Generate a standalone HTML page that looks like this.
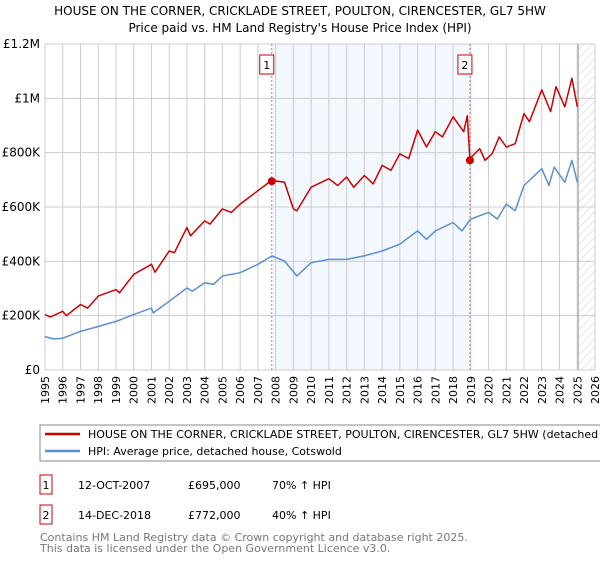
<!DOCTYPE html>
<html><head><meta charset="utf-8">
<style>
body{margin:0;background:#fff;font-family:"DejaVu Sans","Liberation Sans",sans-serif;}
svg text{font-family:"DejaVu Sans","Liberation Sans",sans-serif;}
</style></head>
<body>
<svg id="chart" width="600" height="560" xmlns="http://www.w3.org/2000/svg">
<defs>
<pattern id="hatch" width="6" height="6" patternUnits="userSpaceOnUse" patternTransform="rotate(45)">
<line x1="0" y1="0" x2="0" y2="6" stroke="#ccc" stroke-width="1"/>
</pattern>
</defs>
<text x="300" y="15" text-anchor="middle" font-size="12">HOUSE ON THE CORNER, CRICKLADE STREET, POULTON, CIRENCESTER, GL7 5HW</text>
<text x="300" y="32" text-anchor="middle" font-size="12">Price paid vs. HM Land Registry's House Price Index (HPI)</text>
<g id="plot"></g>
<rect x="40" y="425" width="570" height="36" fill="#fff" stroke="#888"/>
<line x1="45" y1="434" x2="80" y2="434" stroke="#cc0000" stroke-width="2.5"/>
<text x="88" y="438" font-size="11">HOUSE ON THE CORNER, CRICKLADE STREET, POULTON, CIRENCESTER, GL7 5HW (detached house)</text>
<line x1="45" y1="451" x2="80" y2="451" stroke="#5b8fd4" stroke-width="2.5"/>
<text x="88" y="455" font-size="11">HPI: Average price, detached house, Cotswold</text>
<g>
<rect x="40" y="475" width="12" height="19" fill="#fff" stroke="#cc0000"/>
<text x="46" y="489" font-size="11" text-anchor="middle">1</text>
<text x="78" y="489" font-size="11">12-OCT-2007</text>
<text x="188" y="489" font-size="11">£695,000</text>
<text x="272" y="489" font-size="11">70% ↑ HPI</text>
</g>
<g>
<rect x="40" y="505" width="12" height="19" fill="#fff" stroke="#cc0000"/>
<text x="46" y="519" font-size="11" text-anchor="middle">2</text>
<text x="78" y="519" font-size="11">14-DEC-2018</text>
<text x="188" y="519" font-size="11">£772,000</text>
<text x="272" y="519" font-size="11">40% ↑ HPI</text>
</g>
<text x="40" y="541" font-size="11" fill="#777">Contains HM Land Registry data © Crown copyright and database right 2025.</text>
<text x="40" y="552" font-size="11" fill="#777">This data is licensed under the Open Government Licence v3.0.</text>
</svg>
<script>
const hpiYears=[1995,1995.5,1996,1997,1998,1999,2000,2001,2001.1,2002,2003,2003.3,2004,2004.5,2005,2006,2007,2007.8,2008.5,2009.2,2010,2011,2012,2013,2014,2015,2016,2016.5,2017,2018,2018.5,2019,2020,2020.5,2021,2021.5,2022,2023,2023.4,2023.7,2024.3,2024.7,2025];
const hpiValues=[123,114,117,142,160,179,204,228,210,253,302,290,321,315,346,358,389,420,401,346,395,407,407,420,438,463,512,481,512,543,512,556,580,556,611,586,679,741,679,747,691,772,691];
const priceYears=[1995,1995.3,1996,1996.2,1997,1997.4,1998,1999,1999.2,2000,2001,2001.2,2002,2002.3,2003,2003.2,2004,2004.3,2005,2005.5,2006,2007,2007.78,2008.5,2009,2009.2,2010,2011,2011.5,2012,2012.4,2013,2013.5,2014,2014.5,2015,2015.5,2016,2016.5,2017,2017.4,2018,2018.6,2018.8,2018.95,2019.5,2019.8,2020.2,2020.6,2021,2021.5,2022,2022.3,2023,2023.5,2023.8,2024.3,2024.7,2025];
const priceValues=[204,195,216,200,241,228,272,296,284,352,389,360,438,432,525,494,549,537,593,580,611,660,698,691,593,586,673,704,679,710,673,716,685,753,735,796,778,883,821,877,858,932,877,936,778,815,772,796,858,821,833,944,914,1031,951,1043,969,1074,969];
const saleYears=[2007.78,2018.95];
const saleValues=[695,772];
const yTicks=[0,200,400,600,800,1000,1200];
const yTickLabels=["£0","£200K","£400K","£600K","£800K","£1M","£1.2M"];
const xTicks=[];for(let y=1995;y<=2026;y++)xTicks.push(y);

const X0=45,X1=595,Y0=370,Y1=44;
const xs=y=>X0+(y-1995)*(X1-X0)/31;
const ys=v=>Y0-v*(Y0-Y1)/1200;
const NS="http://www.w3.org/2000/svg";
const g=document.getElementById('plot');
function mk(tag,attrs){const e=document.createElementNS(NS,tag);for(const k in attrs)e.setAttribute(k,attrs[k]);g.appendChild(e);return e;}

let e=mk('rect',{x:xs(saleYears[0]),y:Y1,width:xs(saleYears[1])-xs(saleYears[0]),height:Y0-Y1,fill:'#eef3fd',opacity:0.7});


e=mk('rect',{x:xs(2025.05),y:Y1,width:X1-xs(2025.05),height:Y0-Y1,fill:'url(#hatch)'});


xTicks.forEach(t=>{
 let l=mk('line',{x1:xs(t),x2:xs(t),y1:Y1,y2:Y0,stroke:'#ccc','stroke-width':1});
 
 
 let tx=mk('text',{x:0,y:0,'font-size':11,'text-anchor':'end',transform:`translate(${xs(t)+4},${Y0+6}) rotate(-90)`});
 tx.textContent=t;
 
 
});
yTicks.forEach((t,i)=>{
 let l=mk('line',{x1:X0,x2:X1,y1:ys(t),y2:ys(t),stroke:'#ccc','stroke-width':1});
 
 
 let tx=mk('text',{x:X0-5,y:ys(t)+4,'font-size':12,'text-anchor':'end'});
 tx.textContent=yTickLabels[i];
 
 
});
e=mk('line',{x1:xs(2025.05),x2:xs(2025.05),y1:Y1,y2:Y0,stroke:'#999','stroke-width':1});


saleYears.forEach((s,i)=>{
 let l=mk('line',{x1:xs(s),x2:xs(s),y1:Y1,y2:Y0,stroke:'#e07070','stroke-dasharray':'2,2','stroke-width':1});
 
 
 let r=mk('rect',{x:xs(s)-12,y:55,width:14,height:19,fill:'#fff',stroke:'#cc0000'});
 
 
 let t=mk('text',{x:xs(s)-5,y:69,'font-size':11,'text-anchor':'middle'});
 t.textContent=i+1;
 
 
});
function line(xa,va,c,n){
 let p=mk('polyline',{points:xa.map((x,i)=>xs(x).toFixed(1)+','+ys(va[i]).toFixed(1)).join(' '),fill:'none',stroke:c,'stroke-width':1.5,'stroke-linejoin':'round'});
 
 
}
line(hpiYears,hpiValues,'#5b8fd4','hpi-line');
line(priceYears,priceValues,'#cc0000','price-line');
saleYears.forEach((s,i)=>{
 let c=mk('circle',{cx:xs(s),cy:ys(saleValues[i]),r:4,fill:'#cc0000'});
 
 
});
</script>
</body></html>
